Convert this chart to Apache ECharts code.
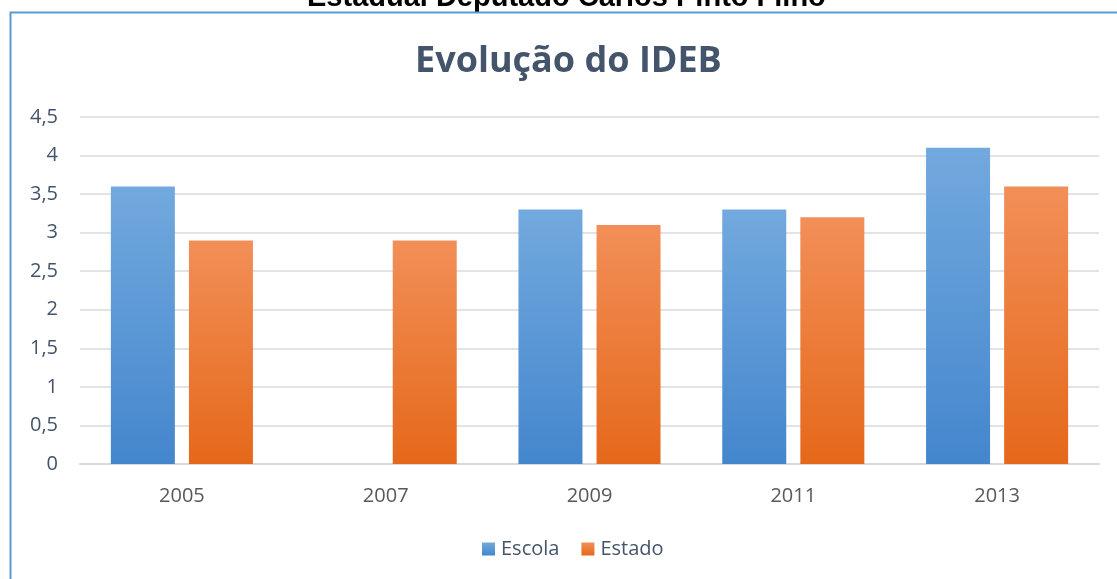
<!DOCTYPE html>
<html>
<head>
<meta charset="utf-8">
<script src="https://cdn.jsdelivr.net/npm/echarts@6/dist/echarts.min.js"></script>
<style>
  html, body { margin: 0; padding: 0; background: #fff; }
  #chart { width: 1117px; height: 579px; }
</style>
</head>
<body>
<div id="chart"></div>
<script>
// dados do gráfico
const anos = ['2005', '2007', '2009', '2011', '2013']
const escola = [3.6, null, 3.3, 3.3, 4.1]
const estado = [2.9, 2.9, 3.1, 3.2, 3.6]

const fontUi = '"Open Sans", "Noto Sans", sans-serif'

function grad(top, bottom) {
  return new echarts.graphic.LinearGradient(0, 0, 0, 1, [
    { offset: 0, color: top },
    { offset: 1, color: bottom }
  ])
}

const chart = echarts.init(document.getElementById('chart'))
chart.setOption({
  animation: false,
  title: {
    text: 'Evolução do IDEB',
    left: 410,
    top: 39,
    textStyle: { fontFamily: fontUi, fontSize: 36, fontWeight: 'bold', color: '#44546a' }
  },
  graphic: [
    // título cortado no topo
    {
      type: 'text',
      left: 307,
      top: -17,
      style: {
        text: 'Estadual Deputado Carlos Pinto Filho',
        font: 'bold 29px "Liberation Sans", Arial, sans-serif',
        fill: '#000'
      }
    },
    // borda azul
    {
      type: 'polyline',
      shape: { points: [[10.5, 579], [10.5, 12.5], [1117, 12.5]] },
      style: { stroke: '#5b9bd5', lineWidth: 2, fill: null }
    }
  ],
  legend: {
    bottom: 15,
    left: 477,
    itemWidth: 13,
    itemHeight: 13,
    itemGap: 22,
    icon: 'rect',
    textStyle: { fontFamily: fontUi, fontSize: 20, color: '#44546a', padding: [0, 0, 0, 1] },
    data: ['Escola', 'Estado']
  },
  grid: { left: 80, right: 18, top: 117, bottom: 115 },
  xAxis: {
    type: 'category',
    data: anos,
    axisLine: { lineStyle: { color: '#d9d9d9', width: 2 } },
    axisTick: { show: false },
    axisLabel: { fontFamily: fontUi, fontSize: 20, color: '#595959', margin: 22 }
  },
  yAxis: {
    type: 'value',
    min: 0,
    max: 4.5,
    interval: 0.5,
    axisLine: { show: false },
    axisTick: { show: false },
    splitLine: { lineStyle: { color: '#e0e3e8', width: 2 } },
    axisLabel: {
      fontFamily: fontUi,
      fontSize: 20,
      color: '#44546a',
      margin: 22,
      formatter: v => String(v).replace('.', ',')
    }
  },
  series: [
    {
      name: 'Escola',
      type: 'bar',
      data: escola,
      barWidth: 64,
      barGap: '22%',
      itemStyle: { color: grad('#72a9de', '#4486cd') }
    },
    {
      name: 'Estado',
      type: 'bar',
      data: estado,
      barWidth: 64,
      itemStyle: { color: grad('#f28f58', '#e5681a') }
    }
  ]
})
</script>
</body>
</html>
